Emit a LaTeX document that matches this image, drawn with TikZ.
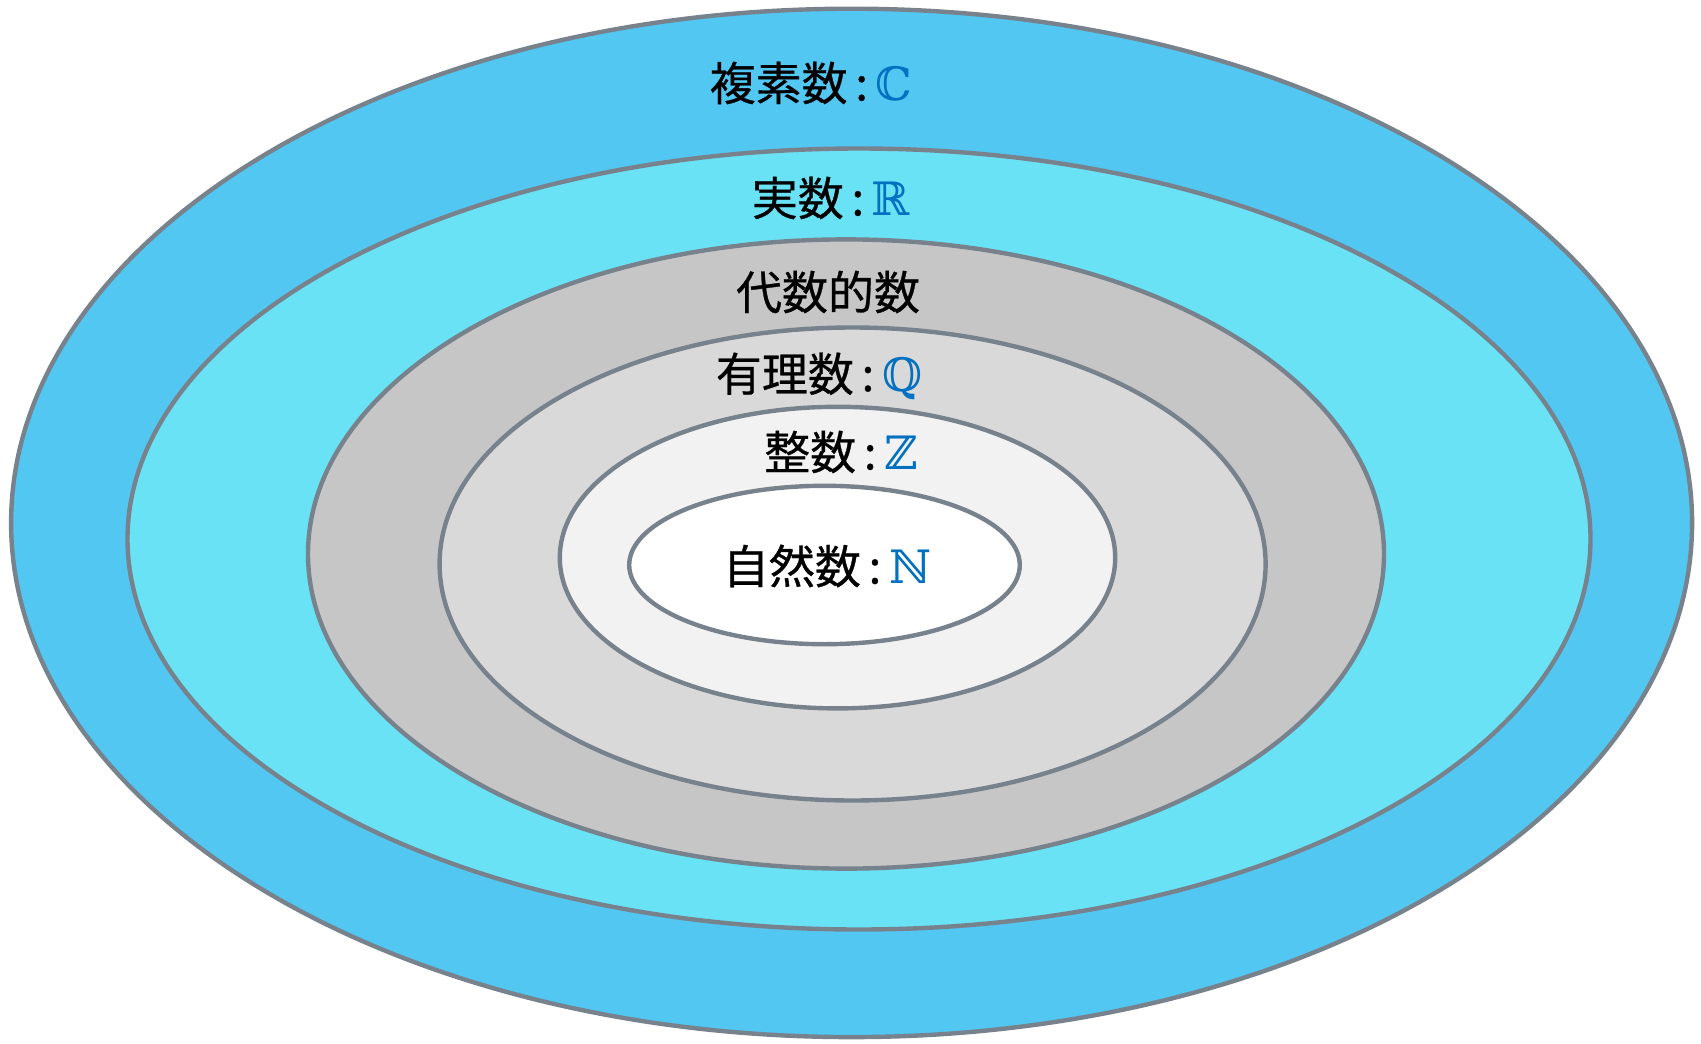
\documentclass[tikz,border=0pt]{standalone}
\usepackage{fontspec}
\setmainfont{Noto Sans CJK JP}[FakeBold=0.6]
\newfontfamily\bbfont{DejaVu Serif}
\definecolor{cC}{HTML}{52C7F2}
\definecolor{cR}{HTML}{69E2F5}
\definecolor{cA}{HTML}{C6C6C6}
\definecolor{cQ}{HTML}{D9D9D9}
\definecolor{cZ}{HTML}{F2F2F2}
\definecolor{edge}{HTML}{78828C}
\definecolor{setblue}{HTML}{0070C0}
\newcommand{\bbset}[1]{\textcolor{setblue}{\bbfont #1}}
\begin{document}
\begin{tikzpicture}[x=1pt,y=-1pt,
  ring/.style={draw=edge,line width=4.4pt},
  lbl/.style={inner sep=0pt,font=\fontsize{46}{52}\selectfont}]
\useasboundingbox (0,0) rectangle (1701,1044);
\draw[ring,fill=cC] (851.6,522.9) ellipse [x radius=840.5,y radius=514.2];
\draw[ring,fill=cR] (859,539) ellipse [x radius=731.5,y radius=390.5];
\draw[ring,fill=cA] (846,554) ellipse [x radius=538,y radius=314.6];
\draw[ring,fill=cQ] (852.6,564) ellipse [x radius=413,y radius=236.5];
\draw[ring,fill=cZ] (837.5,557.6) ellipse [x radius=277.7,y radius=150.8];
\draw[ring,fill=white] (824.5,565) ellipse [x radius=195.3,y radius=79.2];
\node[lbl] (C) at (811,83) {複素数\,:\,\bbset{ℂ}};
\node[lbl] (R) at (831,198) {実数\,:\,\bbset{ℝ}};
\node[lbl] (A) at (828,292) {代数的数};
\node[lbl] (Q) at (819,376) {有理数\,:\,\bbset{ℚ}};
\node[lbl] (Z) at (841,452) {整数\,:\,\bbset{ℤ}};
\node[lbl] (N) at (827,566) {自然数\,:\,\bbset{ℕ}};
\end{tikzpicture}
\end{document}
